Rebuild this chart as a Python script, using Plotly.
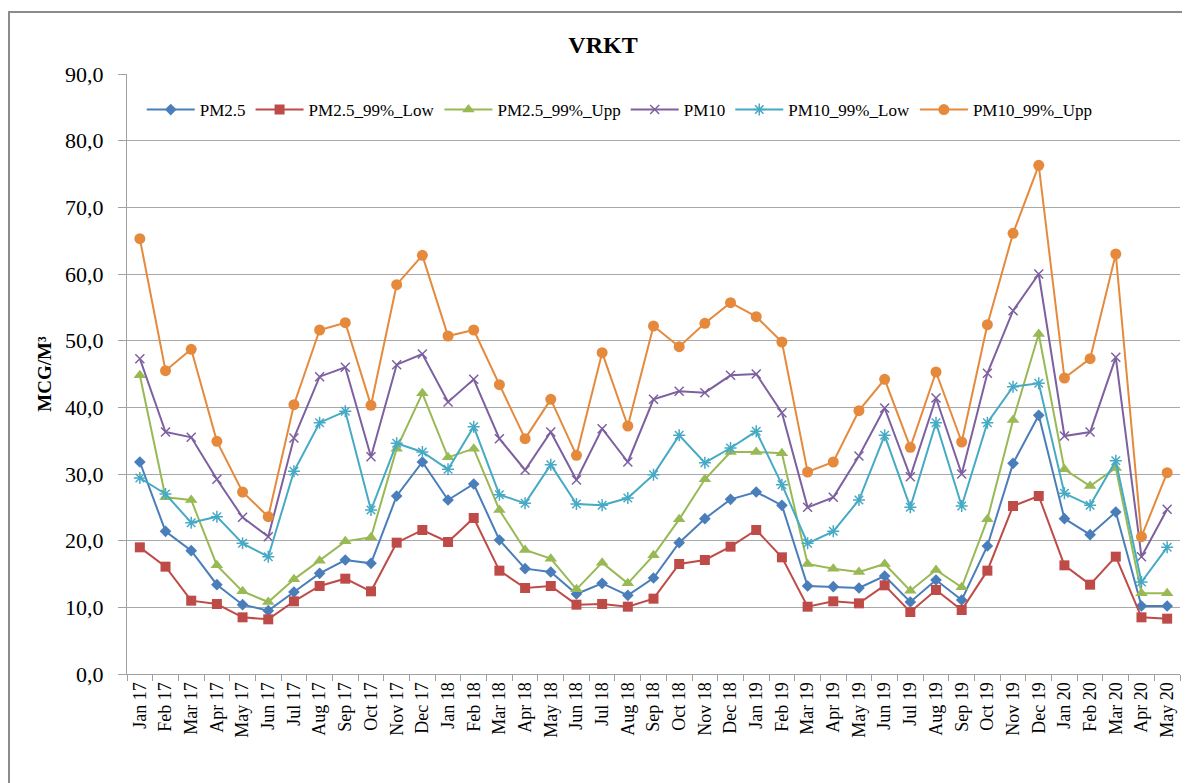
import plotly.graph_objects as go

months = ["Jan 17", "Feb 17", "Mar 17", "Apr 17", "May 17", "Jun 17", "Jul 17", "Aug 17", "Sep 17", "Oct 17",
          "Nov 17", "Dec 17", "Jan 18", "Feb 18", "Mar 18", "Apr 18", "May 18", "Jun 18", "Jul 18", "Aug 18",
          "Sep 18", "Oct 18", "Nov 18", "Dec 18", "Jan 19", "Feb 19", "Mar 19", "Apr 19", "May 19", "Jun 19",
          "Jul 19", "Aug 19", "Sep 19", "Oct 19", "Nov 19", "Dec 19", "Jan 20", "Feb 20", "Mar 20", "Apr 20",
          "May 20"]

pm25 = [31.8, 21.4, 18.5, 13.4, 10.4, 9.5, 12.3, 15.1, 17.1, 16.6,
        26.7, 31.8, 26.1, 28.5, 20.1, 15.8, 15.3, 12.0, 13.6, 11.8,
        14.4, 19.7, 23.3, 26.2, 27.3, 25.3, 13.2, 13.1, 12.9, 14.7,
        10.8, 14.1, 11.1, 19.2, 31.6, 38.8, 23.3, 20.9, 24.3, 10.2,
        10.2]

pm25_low = [19.0, 16.1, 11.0, 10.5, 8.5, 8.2, 10.9, 13.2, 14.3, 12.4,
            19.7, 21.6, 19.8, 23.4, 15.5, 12.9, 13.2, 10.4, 10.5, 10.1,
            11.3, 16.5, 17.1, 19.1, 21.6, 17.5, 10.1, 10.9, 10.6, 13.3,
            9.3, 12.6, 9.6, 15.5, 25.2, 26.7, 16.3, 13.4, 17.6, 8.5,
            8.3]

pm25_upp = [44.8, 26.5, 26.1, 16.3, 12.4, 10.8, 14.2, 17.0, 19.9, 20.5,
            33.8, 42.1, 32.5, 33.8, 24.6, 18.6, 17.3, 12.7, 16.7, 13.6,
            17.8, 23.2, 29.2, 33.3, 33.3, 33.1, 16.5, 15.8, 15.3, 16.5,
            12.5, 15.6, 13.0, 23.2, 38.1, 51.0, 30.7, 28.2, 30.9, 12.1,
            12.1]

pm10 = [47.3, 36.3, 35.5, 29.2, 23.5, 20.6, 35.4, 44.6, 46.0, 32.6,
        46.4, 48.0, 40.8, 44.2, 35.3, 30.6, 36.3, 29.1, 36.8, 31.8,
        41.2, 42.4, 42.2, 44.8, 45.0, 39.2, 25.0, 26.5, 32.7, 39.9,
        29.6, 41.4, 30.0, 45.1, 54.5, 60.0, 35.7, 36.3, 47.5, 17.6,
        24.7]

pm10_low = [29.4, 27.0, 22.7, 23.6, 19.6, 17.6, 30.4, 37.7, 39.4, 24.6,
            34.6, 33.3, 30.7, 37.1, 26.9, 25.6, 31.4, 25.5, 25.3, 26.4,
            29.9, 35.8, 31.7, 33.9, 36.4, 28.4, 19.6, 21.4, 26.1, 35.8,
            25.0, 37.7, 25.2, 37.7, 43.1, 43.6, 27.1, 25.3, 32.0, 13.8,
            19.0]

pm10_upp = [65.3, 45.5, 48.7, 34.9, 27.3, 23.6, 40.4, 51.6, 52.7, 40.3,
            58.4, 62.8, 50.7, 51.6, 43.4, 35.3, 41.2, 32.8, 48.2, 37.2,
            52.2, 49.1, 52.6, 55.7, 53.6, 49.8, 30.3, 31.8, 39.5, 44.2,
            34.0, 45.3, 34.8, 52.4, 66.1, 76.3, 44.4, 47.3, 63.0, 20.6,
            30.2]

y_ticks = [0, 10, 20, 30, 40, 50, 60, 70, 80, 90]

series = [
    ("PM2.5", pm25, "#4A7EBB", "diamond", 9),
    ("PM2.5_99%_Low", pm25_low, "#BE4B48", "square", 10),
    ("PM2.5_99%_Upp", pm25_upp, "#98B954", "triangle-up", 11),
    ("PM10", pm10, "#7D60A0", "x-thin", 9),
    ("PM10_99%_Low", pm10_low, "#46AAC5", "asterisk", 10),
    ("PM10_99%_Upp", pm10_upp, "#E58A3C", "circle", 11),
]

FONT = "'Liberation Serif', 'Times New Roman', serif"

# figure placed in page with 8px body margin
W, H = 1182, 775
L, T = 119, 66
PW, PH = 1053, 600

fig = go.Figure()
for name, vals, color, sym, size in series:
    marker = dict(symbol=sym, size=size, color=color)
    if sym in ("x-thin", "asterisk"):
        marker["line"] = dict(color=color, width=1.5)
    else:
        marker["line"] = dict(width=0)
    fig.add_trace(go.Scatter(x=months, y=vals, name=name, mode="lines+markers",
                             line=dict(color=color, width=2), marker=marker))

fig.update_layout(
    width=W, height=H,
    margin=dict(l=L, r=W - L - PW, t=T, b=H - T - PH),
    paper_bgcolor="white", plot_bgcolor="white",
    separators=",.",
    font=dict(family=FONT, color="black"),
    title=dict(text="<b>VRKT</b>", x=(603 - 8) / W, xref="container", xanchor="center",
               y=1 - (45 - 8) / H, yref="container", yanchor="middle",
               font=dict(family=FONT, size=24, color="black")),
    showlegend=True,
    legend=dict(orientation="h", x=0.014, xanchor="left", y=0.94, yanchor="middle",
                bgcolor="rgba(255,255,255,1)", font=dict(family=FONT, size=17, color="black"),
                itemwidth=48, traceorder="normal"),
    shapes=[dict(type="rect", xref="paper", yref="paper",
                 x0=(1 - L) / PW, x1=(W + 20 - L) / PW,
                 y0=(T + PH - H - 20) / PH, y1=(T + PH - 4) / PH,
                 line=dict(color="#8C8C8C", width=2), fillcolor="rgba(0,0,0,0)", layer="below")],
)

fig.update_xaxes(type="category", tickangle=-90, tickson="boundaries", ticks="outside", ticklen=6,
                 tickcolor="#A0A0A0", showline=True, linecolor="#A0A0A0", linewidth=1,
                 showgrid=False, tickfont=dict(family=FONT, size=18, color="black"),
                 range=[-0.5, len(months) - 0.5])
fig.update_yaxes(range=[0, 90], tickvals=y_ticks, tickformat=".1f", ticks="outside", ticklen=8,
                 tickcolor="#A0A0A0", showline=True, linecolor="#A0A0A0", linewidth=1,
                 showgrid=True, gridcolor="#A8A8A8", gridwidth=1, zeroline=False,
                 ticklabelstandoff=10,
                 tickfont=dict(family=FONT, size=22, color="black"),
                 title=dict(text="<b>MCG/M³</b>", standoff=8, font=dict(family=FONT, size=19, color="black")))

fig.write_html("out.html")
